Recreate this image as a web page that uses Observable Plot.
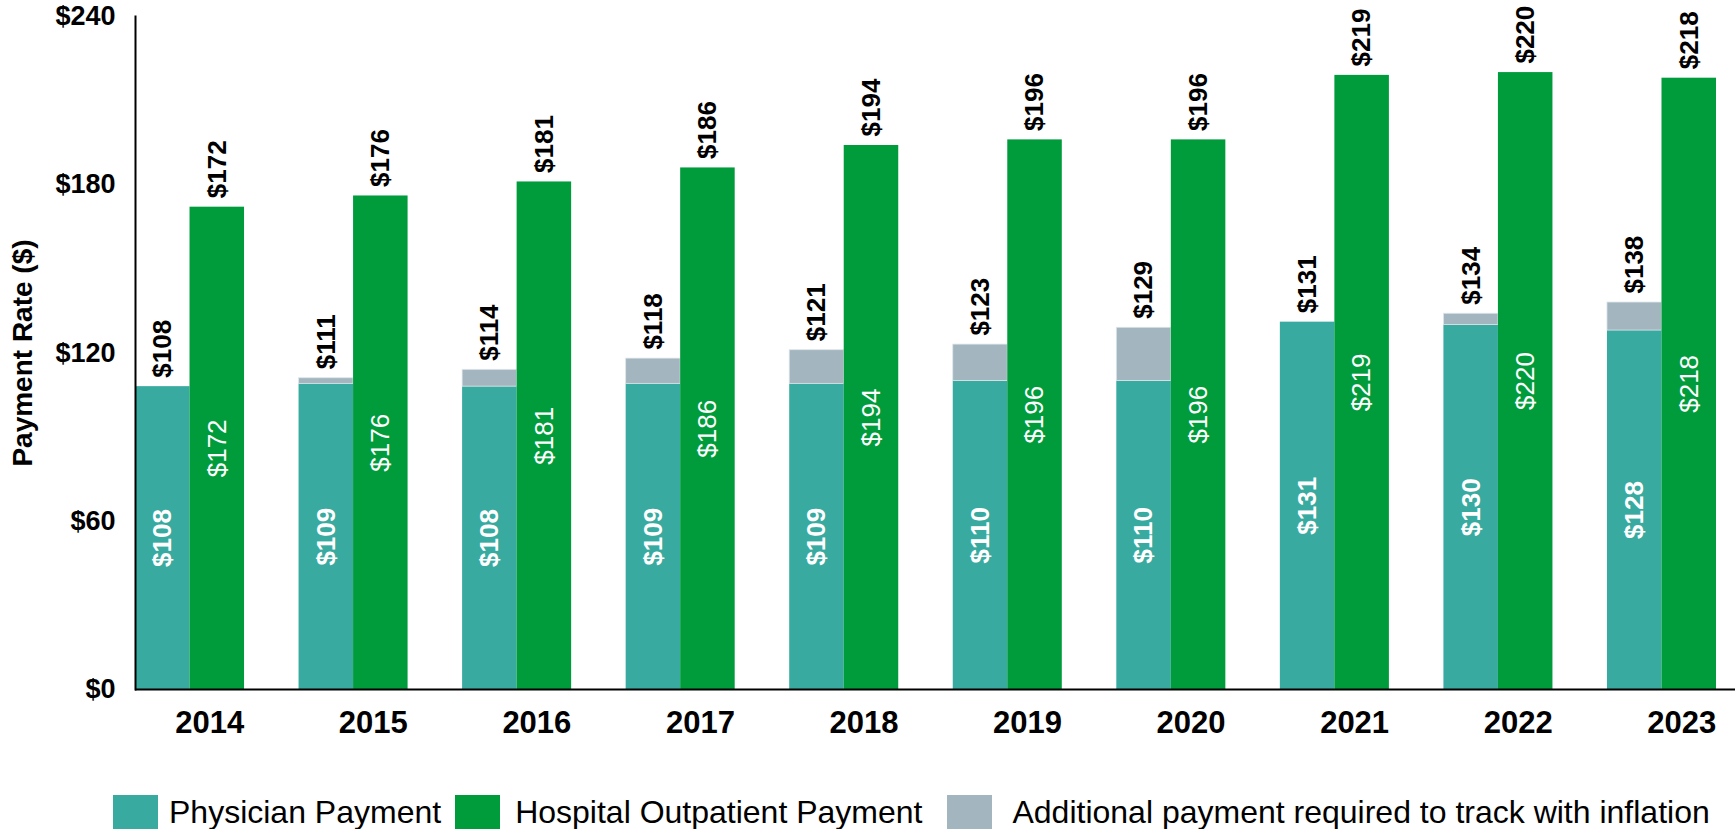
<!DOCTYPE html>
<html>
<head>
<meta charset="utf-8">
<script src="https://cdn.jsdelivr.net/npm/d3@7"></script>
<script src="https://cdn.jsdelivr.net/npm/@observablehq/plot@0.6"></script>
<style>
  html, body { margin: 0; padding: 0; background: #fff; overflow: hidden; }
  body { font-family: "Liberation Sans", Arial, sans-serif; }
  #chart svg { display: block; }
  #legend { display: flex; align-items: flex-start; margin-left: 113px; margin-top: 35px; white-space: nowrap; }
  .item { display: flex; align-items: flex-start; }
  .sw { width: 45px; height: 45px; flex: none; }
  .lab { font-size: 32px; line-height: 1; margin-top: 1px; color: #000; }
</style>
</head>
<body>
<div id="chart"></div>
<div id="legend"></div>
<script>
// ---- data ----
const years = [2014, 2015, 2016, 2017, 2018, 2019, 2020, 2021, 2022, 2023];
const physician = [108, 109, 108, 109, 109, 110, 110, 131, 130, 128];
const inflationTracked = [108, 111, 114, 118, 121, 123, 129, 131, 134, 138];
const hospital = [172, 176, 181, 186, 194, 196, 196, 219, 220, 218];
const seriesNames = ["Physician Payment", "Hospital Outpatient Payment", "Additional payment required to track with inflation"];
const seriesColors = ["#38aaa0", "#009c3c", "#a3b5bf"];
const yTicks = [0, 60, 120, 180, 240];

// ---- table built from the arrays ----
const rows = years.map((y, i) => ({
  year: y,
  physician: physician[i],
  total: inflationTracked[i],
  hospital: hospital[i]
}));
const key = (y, s) => `${y}|${s}`;
const xDomain = years.flatMap((y, i) =>
  i < years.length - 1 ? [key(y, "P"), key(y, "H"), key(y, "gap")] : [key(y, "P"), key(y, "H")]
);
const P = d => key(d.year, "P");
const H = d => key(d.year, "H");
const money = v => "$" + v;
const FONT = "'Liberation Sans', Arial, sans-serif";

const chart = Plot.plot({
  width: 1735,
  height: 760,
  marginLeft: 135,
  marginRight: 19,
  marginTop: 16,
  marginBottom: 71,
  style: { fontFamily: FONT, fontSize: "27px", fontWeight: "bold", color: "#000", background: "#fff" },
  x: { domain: xDomain, padding: 0, round: false, axis: null },
  y: { domain: [0, 240], ticks: yTicks, tickFormat: money, tickSize: 0, tickPadding: 20, label: null },
  marks: [
    Plot.barY(rows, { x: P, y1: 0, y2: "physician", fill: seriesColors[0] }),
    Plot.barY(rows.filter(d => d.total > d.physician), { x: P, y1: "physician", y2: "total", fill: seriesColors[2], stroke: "#dfe6ea", strokeWidth: 0.8 }),
    Plot.barY(rows, { x: H, y1: 0, y2: "hospital", fill: seriesColors[1] }),
    Plot.frame({ anchor: "left", stroke: "#000", strokeWidth: 2 }),
    Plot.ruleY([0], { stroke: "#000", strokeWidth: 2, insetRight: -19 }),
    // labels above bars
    Plot.text(rows, { x: P, y: "total", text: d => money(d.total), rotate: -90, textAnchor: "start", lineAnchor: "middle", dy: -9, fontSize: 26, fontWeight: "bold", fill: "#000" }),
    Plot.text(rows, { x: H, y: "hospital", text: d => money(d.hospital), rotate: -90, textAnchor: "start", lineAnchor: "middle", dy: -9, fontSize: 26, fontWeight: "bold", fill: "#000" }),
    // labels inside bars
    Plot.text(rows, { x: P, y: d => d.physician / 2, text: d => money(d.physician), rotate: -90, textAnchor: "middle", lineAnchor: "middle", fontSize: 26, fontWeight: "bold", fill: "#fff" }),
    Plot.text(rows, { x: H, y: d => d.hospital / 2, text: d => money(d.hospital), rotate: -90, textAnchor: "middle", lineAnchor: "middle", fontSize: 26, fontWeight: "normal", fill: "#fff" }),
    // year labels
    Plot.text(rows, { x: P, frameAnchor: "bottom", text: d => String(d.year), dx: 47, dy: 34, lineAnchor: "middle", fontSize: 31, fontWeight: "bold", fill: "#000" }),
    // y axis title
    Plot.text(["Payment Rate ($)"], { frameAnchor: "left", text: d => d, rotate: -90, dx: -112, textAnchor: "middle", lineAnchor: "middle", fontSize: 28, fontWeight: "bold", fill: "#000" })
  ]
});
document.getElementById("chart").appendChild(chart);

// ---- legend below the chart ----
const legend = document.getElementById("legend");
const itemGaps = [0, 14, 25];
const labelGaps = [11, 15, 20];
seriesNames.forEach((name, i) => {
  const item = document.createElement("div");
  item.className = "item";
  item.style.marginLeft = itemGaps[i] + "px";
  const sw = document.createElement("div");
  sw.className = "sw";
  sw.style.background = seriesColors[i];
  const lab = document.createElement("span");
  lab.className = "lab";
  lab.style.marginLeft = labelGaps[i] + "px";
  lab.textContent = name;
  item.appendChild(sw);
  item.appendChild(lab);
  legend.appendChild(item);
});
</script>
</body>
</html>
